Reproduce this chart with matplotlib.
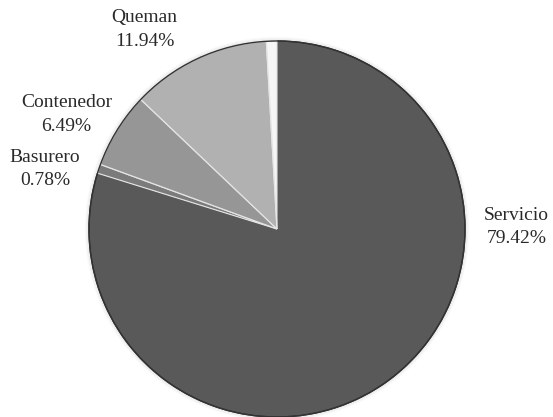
import matplotlib.pyplot as plt
from matplotlib.patches import Circle

# Destino de la basura en los hogares (%)
categorias = ['Servicio', 'Basurero', 'Contenedor', 'Queman', '']
porcentajes = [79.42, 0.78, 6.49, 11.94, 0.9]
colores = ['#595959', '#7b7b7b', '#969696', '#b1b1b1', '#f6f6f6']

# posición de cada etiqueta (en radios, respecto al centro del pastel)
pos_etiquetas = {
    'Servicio': (1.275, 0.01),
    'Basurero': (-1.235, 0.32),
    'Contenedor': (-1.12, 0.61),
    'Queman': (-0.705, 1.06),
}

W, H = 553, 417
cx, cy, r = 277, 229, 188

fig = plt.figure(figsize=(W / 100, H / 100), dpi=100)
ax = fig.add_axes([0, 0, 1, 1])

wedges, _ = ax.pie(porcentajes, colors=colores, startangle=90, counterclock=False,
                   radius=1, center=(0, 0),
                   wedgeprops=dict(edgecolor='#e4e4e4', linewidth=0.9))
wedges[0].set_edgecolor('#2e2e2e')
wedges[0].set_linewidth(1.0)

# halo suave y contorno exterior
for i, a in enumerate([0.05, 0.035, 0.02]):
    ax.add_patch(Circle((0, 0), 1 + 0.006 * (i + 1), fill=False,
                        edgecolor='#000000', linewidth=1.2, alpha=a, zorder=0))
ax.add_patch(Circle((0, 0), 1, fill=False, edgecolor='#333333', linewidth=1.0, zorder=3))

for nombre, valor in zip(categorias, porcentajes):
    if not nombre:
        continue
    x, y = pos_etiquetas[nombre]
    ax.text(x, y, f'{nombre}\n{valor:.2f}%', ha='center', va='center',
            fontsize=14, family='Liberation Serif', color='#2a2a2a',
            linespacing=1.5)

ax.set_xlim(-cx / r, (W - cx) / r)
ax.set_ylim(-(H - cy) / r, cy / r)
ax.set_aspect('auto')
ax.axis('off')

fig.savefig('out.png', dpi=100, facecolor='white')
